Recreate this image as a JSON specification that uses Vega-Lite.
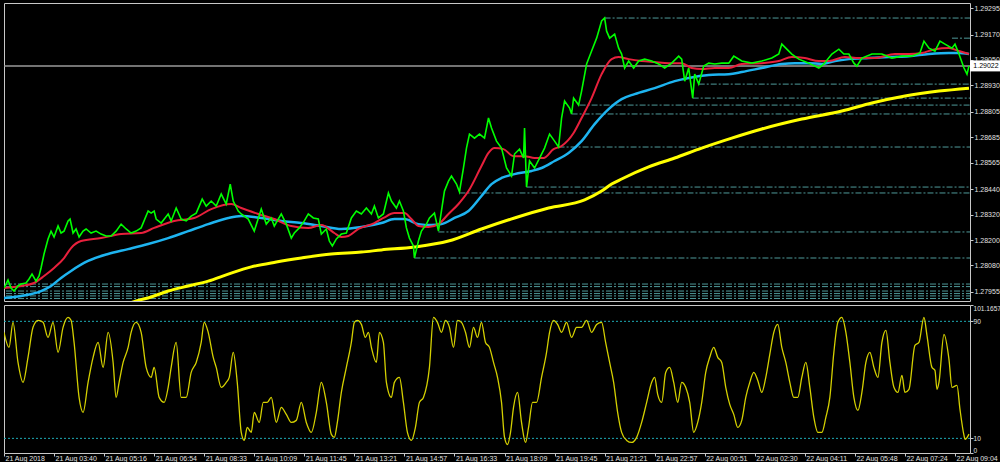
{
"$schema": "https://vega.github.io/schema/vega-lite/v6.json",
"background": "#000000",
"padding": {"left": 2, "top": 2, "right": 0, "bottom": 0},
"spacing": 2,
"config": {
  "view": {"stroke": "#c8c8c8", "strokeWidth": 1},
  "axis": {"labelFont": "Liberation Sans", "labelFontSize": 7, "labelColor": "#e0e0e0", "tickColor": "#c8c8c8", "domain": false, "grid": false, "title": null}
},
"datasets": {
"green": [{"bar":0,"price":1.27973},{"bar":8,"price":1.28011},{"bar":14,"price":1.27973},{"bar":20,"price":1.27959},{"bar":28,"price":1.27983},{"bar":34,"price":1.27992},{"bar":44,"price":1.27997},{"bar":50,"price":1.28016},{"bar":56,"price":1.28039},{"bar":64,"price":1.28006},{"bar":70,"price":1.2803},{"bar":74,"price":1.28068},{"bar":80,"price":1.28134},{"bar":88,"price":1.28205},{"bar":94,"price":1.28242},{"bar":100,"price":1.28214},{"bar":108,"price":1.28266},{"bar":114,"price":1.28233},{"bar":120,"price":1.28242},{"bar":128,"price":1.2829},{"bar":132,"price":1.28299},{"bar":138,"price":1.28233},{"bar":144,"price":1.28252},{"bar":150,"price":1.28214},{"bar":158,"price":1.28242},{"bar":164,"price":1.28252},{"bar":174,"price":1.28233},{"bar":184,"price":1.28242},{"bar":194,"price":1.28228},{"bar":204,"price":1.28219},{"bar":214,"price":1.28219},{"bar":224,"price":1.28242},{"bar":234,"price":1.28275},{"bar":244,"price":1.28252},{"bar":254,"price":1.28233},{"bar":264,"price":1.28242},{"bar":274,"price":1.28257},{"bar":288,"price":1.28337},{"bar":294,"price":1.28327},{"bar":300,"price":1.28337},{"bar":304,"price":1.28299},{"bar":314,"price":1.2828},{"bar":328,"price":1.28323},{"bar":334,"price":1.2829},{"bar":344,"price":1.28351},{"bar":354,"price":1.28299},{"bar":364,"price":1.2829},{"bar":374,"price":1.28313},{"bar":384,"price":1.28327},{"bar":396,"price":1.28393},{"bar":404,"price":1.2836},{"bar":414,"price":1.28384},{"bar":424,"price":1.2836},{"bar":434,"price":1.28417},{"bar":444,"price":1.2837},{"bar":452,"price":1.28464},{"bar":458,"price":1.28384},{"bar":468,"price":1.28337},{"bar":474,"price":1.28323},{"bar":488,"price":1.28299},{"bar":500,"price":1.28242},{"bar":514,"price":1.28346},{"bar":524,"price":1.28275},{"bar":534,"price":1.28304},{"bar":540,"price":1.28266},{"bar":554,"price":1.28323},{"bar":564,"price":1.28275},{"bar":574,"price":1.28209},{"bar":580,"price":1.28233},{"bar":590,"price":1.28257},{"bar":600,"price":1.2829},{"bar":608,"price":1.28323},{"bar":618,"price":1.28304},{"bar":628,"price":1.28299},{"bar":634,"price":1.28228},{"bar":644,"price":1.28252},{"bar":650,"price":1.28195},{"bar":656,"price":1.28172},{"bar":664,"price":1.28205},{"bar":674,"price":1.28228},{"bar":684,"price":1.28233},{"bar":694,"price":1.28304},{"bar":704,"price":1.28337},{"bar":714,"price":1.28323},{"bar":724,"price":1.28351},{"bar":734,"price":1.28323},{"bar":740,"price":1.2836},{"bar":748,"price":1.28304},{"bar":758,"price":1.28323},{"bar":768,"price":1.28422},{"bar":774,"price":1.28384},{"bar":784,"price":1.28351},{"bar":790,"price":1.28384},{"bar":798,"price":1.28337},{"bar":804,"price":1.28257},{"bar":810,"price":1.28209},{"bar":818,"price":1.28172},{"bar":820,"price":1.28115},{"bar":828,"price":1.28195},{"bar":834,"price":1.28242},{"bar":844,"price":1.28275},{"bar":850,"price":1.28304},{"bar":860,"price":1.28327},{"bar":868,"price":1.28242},{"bar":874,"price":1.28337},{"bar":880,"price":1.28431},{"bar":888,"price":1.28478},{"bar":894,"price":1.28502},{"bar":904,"price":1.28464},{"bar":910,"price":1.28427},{"bar":918,"price":1.2854},{"bar":924,"price":1.28634},{"bar":930,"price":1.287},{"bar":940,"price":1.28681},{"bar":950,"price":1.287},{"bar":960,"price":1.28681},{"bar":968,"price":1.28776},{"bar":974,"price":1.28729},{"bar":984,"price":1.28667},{"bar":994,"price":1.28634},{"bar":1004,"price":1.2854},{"bar":1014,"price":1.28502},{"bar":1020,"price":1.28606},{"bar":1030,"price":1.28629},{"bar":1038,"price":1.28587},{"bar":1040,"price":1.28729},{"bar":1044,"price":1.2845},{"bar":1050,"price":1.28573},{"bar":1060,"price":1.2854},{"bar":1070,"price":1.28587},{"bar":1080,"price":1.28634},{"bar":1090,"price":1.287},{"bar":1100,"price":1.28667},{"bar":1108,"price":1.28639},{"bar":1114,"price":1.28776},{"bar":1120,"price":1.28856},{"bar":1130,"price":1.28823},{"bar":1134,"price":1.28795},{"bar":1138,"price":1.2887},{"bar":1148,"price":1.28837},{"bar":1154,"price":1.28903},{"bar":1164,"price":1.29031},{"bar":1174,"price":1.29092},{"bar":1184,"price":1.29153},{"bar":1194,"price":1.29234},{"bar":1200,"price":1.29248},{"bar":1204,"price":1.29186},{"bar":1210,"price":1.29153},{"bar":1220,"price":1.29172},{"bar":1228,"price":1.29106},{"bar":1234,"price":1.29078},{"bar":1240,"price":1.29012},{"bar":1248,"price":1.29045},{"bar":1258,"price":1.29012},{"bar":1268,"price":1.29045},{"bar":1280,"price":1.29054},{"bar":1294,"price":1.29045},{"bar":1308,"price":1.29031},{"bar":1320,"price":1.29012},{"bar":1334,"price":1.29035},{"bar":1348,"price":1.29068},{"bar":1354,"price":1.29054},{"bar":1360,"price":1.2895},{"bar":1368,"price":1.29012},{"bar":1376,"price":1.2887},{"bar":1380,"price":1.28983},{"bar":1388,"price":1.28936},{"bar":1398,"price":1.29021},{"bar":1408,"price":1.29035},{"bar":1420,"price":1.29031},{"bar":1434,"price":1.29035},{"bar":1448,"price":1.29035},{"bar":1458,"price":1.29068},{"bar":1474,"price":1.29045},{"bar":1494,"price":1.29035},{"bar":1514,"price":1.29045},{"bar":1534,"price":1.29059},{"bar":1548,"price":1.29078},{"bar":1554,"price":1.29125},{"bar":1564,"price":1.29101},{"bar":1574,"price":1.29078},{"bar":1588,"price":1.29054},{"bar":1608,"price":1.29035},{"bar":1628,"price":1.29012},{"bar":1638,"price":1.29031},{"bar":1654,"price":1.29078},{"bar":1668,"price":1.29101},{"bar":1678,"price":1.29078},{"bar":1688,"price":1.29078},{"bar":1698,"price":1.29035},{"bar":1704,"price":1.29021},{"bar":1714,"price":1.29059},{"bar":1734,"price":1.29078},{"bar":1754,"price":1.29078},{"bar":1774,"price":1.29059},{"bar":1794,"price":1.29068},{"bar":1814,"price":1.29068},{"bar":1830,"price":1.29083},{"bar":1838,"price":1.29139},{"bar":1848,"price":1.29106},{"bar":1860,"price":1.29092},{"bar":1870,"price":1.29139},{"bar":1880,"price":1.29125},{"bar":1894,"price":1.29106},{"bar":1900,"price":1.29125},{"bar":1908,"price":1.29078},{"bar":1918,"price":1.29012},{"bar":1924,"price":1.28983},{"bar":1928,"price":1.29022}],
"red": [{"bar":0,"price":1.27973},{"bar":34,"price":1.27983},{"bar":60,"price":1.27997},{"bar":80,"price":1.2803},{"bar":100,"price":1.28068},{"bar":120,"price":1.28115},{"bar":134,"price":1.28162},{"bar":154,"price":1.28195},{"bar":194,"price":1.28209},{"bar":234,"price":1.28228},{"bar":274,"price":1.28233},{"bar":300,"price":1.28257},{"bar":340,"price":1.2829},{"bar":380,"price":1.28304},{"bar":414,"price":1.28346},{"bar":454,"price":1.2837},{"bar":474,"price":1.28351},{"bar":508,"price":1.28323},{"bar":540,"price":1.28299},{"bar":574,"price":1.28266},{"bar":608,"price":1.28257},{"bar":634,"price":1.28271},{"bar":660,"price":1.28233},{"bar":674,"price":1.28214},{"bar":688,"price":1.28219},{"bar":708,"price":1.28252},{"bar":740,"price":1.2828},{"bar":758,"price":1.28304},{"bar":780,"price":1.28327},{"bar":800,"price":1.28327},{"bar":814,"price":1.28299},{"bar":828,"price":1.28266},{"bar":848,"price":1.28261},{"bar":868,"price":1.28275},{"bar":888,"price":1.28323},{"bar":908,"price":1.2837},{"bar":928,"price":1.28431},{"bar":954,"price":1.28549},{"bar":968,"price":1.28611},{"bar":980,"price":1.28634},{"bar":998,"price":1.28629},{"bar":1018,"price":1.28596},{"bar":1040,"price":1.28596},{"bar":1060,"price":1.28587},{"bar":1078,"price":1.28587},{"bar":1098,"price":1.28629},{"bar":1114,"price":1.28644},{"bar":1138,"price":1.28705},{"bar":1154,"price":1.28776},{"bar":1174,"price":1.2887},{"bar":1194,"price":1.28983},{"bar":1214,"price":1.29054},{"bar":1228,"price":1.29064},{"bar":1248,"price":1.29054},{"bar":1274,"price":1.29045},{"bar":1300,"price":1.2904},{"bar":1328,"price":1.29035},{"bar":1354,"price":1.29035},{"bar":1374,"price":1.29012},{"bar":1394,"price":1.29007},{"bar":1420,"price":1.29012},{"bar":1448,"price":1.29012},{"bar":1474,"price":1.29031},{"bar":1514,"price":1.29035},{"bar":1548,"price":1.29045},{"bar":1574,"price":1.29064},{"bar":1600,"price":1.29059},{"bar":1628,"price":1.29045},{"bar":1648,"price":1.29045},{"bar":1680,"price":1.29064},{"bar":1708,"price":1.29059},{"bar":1740,"price":1.29059},{"bar":1780,"price":1.29078},{"bar":1808,"price":1.29078},{"bar":1834,"price":1.29083},{"bar":1860,"price":1.29101},{"bar":1888,"price":1.29106},{"bar":1908,"price":1.29092},{"bar":1928,"price":1.29078}],
"blue": [{"bar":0,"price":1.27926},{"bar":34,"price":1.27936},{"bar":74,"price":1.27959},{"bar":94,"price":1.27983},{"bar":114,"price":1.28021},{"bar":134,"price":1.28054},{"bar":168,"price":1.28101},{"bar":208,"price":1.28134},{"bar":248,"price":1.28157},{"bar":288,"price":1.28181},{"bar":328,"price":1.28209},{"bar":368,"price":1.28242},{"bar":408,"price":1.28275},{"bar":448,"price":1.28304},{"bar":474,"price":1.28313},{"bar":514,"price":1.28304},{"bar":554,"price":1.2829},{"bar":594,"price":1.2828},{"bar":634,"price":1.28266},{"bar":674,"price":1.28252},{"bar":714,"price":1.28261},{"bar":754,"price":1.2828},{"bar":780,"price":1.28299},{"bar":800,"price":1.28299},{"bar":828,"price":1.28275},{"bar":854,"price":1.28271},{"bar":874,"price":1.28275},{"bar":900,"price":1.28304},{"bar":928,"price":1.28337},{"bar":954,"price":1.28408},{"bar":974,"price":1.28464},{"bar":994,"price":1.28493},{"bar":1020,"price":1.28511},{"bar":1054,"price":1.28526},{"bar":1074,"price":1.2854},{"bar":1100,"price":1.28573},{"bar":1128,"price":1.28611},{"bar":1154,"price":1.28667},{"bar":1180,"price":1.28747},{"bar":1208,"price":1.28818},{"bar":1234,"price":1.28865},{"bar":1260,"price":1.28889},{"bar":1300,"price":1.28917},{"bar":1340,"price":1.2895},{"bar":1368,"price":1.28965},{"bar":1408,"price":1.28979},{"bar":1448,"price":1.28983},{"bar":1474,"price":1.28993},{"bar":1514,"price":1.29012},{"bar":1554,"price":1.29031},{"bar":1580,"price":1.29035},{"bar":1608,"price":1.29035},{"bar":1634,"price":1.29031},{"bar":1660,"price":1.29045},{"bar":1688,"price":1.29054},{"bar":1728,"price":1.29059},{"bar":1768,"price":1.29064},{"bar":1808,"price":1.29068},{"bar":1848,"price":1.29078},{"bar":1888,"price":1.29083},{"bar":1908,"price":1.29083},{"bar":1928,"price":1.29078}],
"yellow": [{"bar":234,"price":1.27888},{"bar":264,"price":1.27912},{"bar":294,"price":1.27931},{"bar":328,"price":1.27959},{"bar":368,"price":1.27983},{"bar":408,"price":1.28006},{"bar":448,"price":1.28039},{"bar":494,"price":1.28073},{"bar":544,"price":1.28096},{"bar":594,"price":1.28115},{"bar":654,"price":1.28134},{"bar":714,"price":1.28143},{"bar":754,"price":1.28153},{"bar":820,"price":1.28167},{"bar":888,"price":1.28195},{"bar":954,"price":1.28252},{"bar":1020,"price":1.28304},{"bar":1088,"price":1.28351},{"bar":1160,"price":1.28389},{"bar":1194,"price":1.28431},{"bar":1214,"price":1.28464},{"bar":1234,"price":1.28488},{"bar":1288,"price":1.28545},{"bar":1340,"price":1.28587},{"bar":1394,"price":1.28634},{"bar":1454,"price":1.28681},{"bar":1514,"price":1.28724},{"bar":1594,"price":1.28771},{"bar":1674,"price":1.28809},{"bar":1734,"price":1.28847},{"bar":1800,"price":1.2888},{"bar":1868,"price":1.28903},{"bar":1928,"price":1.28917}],
"levels": [{"bar":1200,"price":1.29248},{"bar":1894,"price":1.29153},{"bar":1388,"price":1.28936},{"bar":1376,"price":1.2887},{"bar":1150,"price":1.28837},{"bar":1134,"price":1.28795},{"bar":1108,"price":1.28639},{"bar":1044,"price":1.2845},{"bar":910,"price":1.28422},{"bar":868,"price":1.28238},{"bar":820,"price":1.28115},{"bar":4,"price":1.27992},{"bar":4,"price":1.2798},{"bar":4,"price":1.27959},{"bar":4,"price":1.27947},{"bar":4,"price":1.27936},{"bar":4,"price":1.27924}],
"current": [{"bar":0,"price":1.29022}],
"tag": [{"bar":1930,"price":1.29022,"label":"1.29022"}],
"stoch": [{"bar":0,"value":82.5},{"bar":10,"value":72.2},{"bar":18,"value":89.3},{"bar":28,"value":61.9},{"bar":38,"value":48.3},{"bar":48,"value":65.4},{"bar":58,"value":85.9},{"bar":68,"value":90.7},{"bar":78,"value":89.3},{"bar":88,"value":79.0},{"bar":98,"value":89.3},{"bar":108,"value":68.8},{"bar":118,"value":85.9},{"bar":128,"value":92.7},{"bar":134,"value":90.7},{"bar":140,"value":75.6},{"bar":150,"value":38.0},{"bar":158,"value":27.8},{"bar":168,"value":48.3},{"bar":178,"value":65.4},{"bar":188,"value":75.6},{"bar":198,"value":58.5},{"bar":208,"value":82.5},{"bar":218,"value":61.9},{"bar":224,"value":38.0},{"bar":230,"value":48.3},{"bar":238,"value":61.9},{"bar":248,"value":72.2},{"bar":254,"value":82.5},{"bar":264,"value":89.3},{"bar":274,"value":82.5},{"bar":284,"value":58.5},{"bar":294,"value":51.7},{"bar":300,"value":58.5},{"bar":310,"value":38.0},{"bar":320,"value":34.6},{"bar":328,"value":44.9},{"bar":334,"value":58.5},{"bar":344,"value":75.6},{"bar":354,"value":38.0},{"bar":364,"value":38.0},{"bar":374,"value":55.1},{"bar":384,"value":61.9},{"bar":394,"value":75.6},{"bar":400,"value":89.3},{"bar":408,"value":82.5},{"bar":418,"value":65.4},{"bar":424,"value":58.5},{"bar":434,"value":44.9},{"bar":444,"value":48.3},{"bar":450,"value":51.7},{"bar":458,"value":68.8},{"bar":466,"value":48.3},{"bar":474,"value":14.1},{"bar":480,"value":8.6},{"bar":486,"value":17.5},{"bar":494,"value":14.1},{"bar":500,"value":27.8},{"bar":510,"value":20.9},{"bar":518,"value":34.6},{"bar":526,"value":34.6},{"bar":534,"value":38.0},{"bar":544,"value":20.9},{"bar":554,"value":31.2},{"bar":564,"value":26.4},{"bar":574,"value":20.9},{"bar":584,"value":22.3},{"bar":594,"value":34.6},{"bar":604,"value":20.9},{"bar":614,"value":14.1},{"bar":624,"value":27.8},{"bar":634,"value":48.3},{"bar":644,"value":34.6},{"bar":654,"value":12.7},{"bar":660,"value":10.7},{"bar":666,"value":20.9},{"bar":674,"value":41.4},{"bar":684,"value":58.5},{"bar":694,"value":75.6},{"bar":700,"value":89.3},{"bar":706,"value":90.7},{"bar":714,"value":87.9},{"bar":722,"value":79.0},{"bar":728,"value":82.5},{"bar":734,"value":72.2},{"bar":744,"value":61.9},{"bar":750,"value":82.5},{"bar":758,"value":75.6},{"bar":764,"value":48.3},{"bar":774,"value":38.0},{"bar":780,"value":48.3},{"bar":790,"value":51.7},{"bar":798,"value":34.6},{"bar":806,"value":14.1},{"bar":814,"value":8.6},{"bar":822,"value":17.5},{"bar":830,"value":34.6},{"bar":838,"value":38.0},{"bar":850,"value":58.5},{"bar":858,"value":92.7},{"bar":866,"value":89.3},{"bar":874,"value":82.5},{"bar":882,"value":90.7},{"bar":890,"value":85.9},{"bar":898,"value":72.2},{"bar":906,"value":90.7},{"bar":914,"value":89.3},{"bar":922,"value":82.5},{"bar":930,"value":72.2},{"bar":938,"value":85.9},{"bar":946,"value":79.0},{"bar":954,"value":89.3},{"bar":962,"value":75.6},{"bar":970,"value":72.2},{"bar":978,"value":61.9},{"bar":986,"value":51.7},{"bar":994,"value":34.6},{"bar":1000,"value":10.7},{"bar":1006,"value":5.8},{"bar":1012,"value":14.1},{"bar":1018,"value":31.2},{"bar":1026,"value":41.4},{"bar":1034,"value":20.9},{"bar":1042,"value":7.2},{"bar":1048,"value":17.5},{"bar":1056,"value":34.6},{"bar":1064,"value":34.6},{"bar":1074,"value":51.7},{"bar":1084,"value":68.8},{"bar":1090,"value":82.5},{"bar":1098,"value":90.7},{"bar":1106,"value":87.9},{"bar":1114,"value":82.5},{"bar":1124,"value":89.3},{"bar":1134,"value":79.0},{"bar":1144,"value":85.9},{"bar":1154,"value":85.9},{"bar":1164,"value":90.7},{"bar":1174,"value":82.5},{"bar":1184,"value":87.9},{"bar":1194,"value":89.3},{"bar":1202,"value":75.6},{"bar":1210,"value":61.9},{"bar":1218,"value":48.3},{"bar":1226,"value":27.8},{"bar":1234,"value":14.1},{"bar":1244,"value":8.6},{"bar":1254,"value":7.2},{"bar":1264,"value":10.7},{"bar":1274,"value":20.9},{"bar":1284,"value":34.6},{"bar":1294,"value":48.3},{"bar":1300,"value":51.7},{"bar":1306,"value":40.1},{"bar":1314,"value":34.6},{"bar":1322,"value":55.1},{"bar":1330,"value":58.5},{"bar":1338,"value":48.3},{"bar":1346,"value":34.6},{"bar":1354,"value":48.3},{"bar":1362,"value":44.9},{"bar":1370,"value":34.6},{"bar":1378,"value":14.1},{"bar":1386,"value":20.9},{"bar":1394,"value":34.6},{"bar":1402,"value":55.1},{"bar":1410,"value":65.4},{"bar":1418,"value":72.2},{"bar":1426,"value":65.4},{"bar":1434,"value":61.9},{"bar":1442,"value":44.9},{"bar":1450,"value":33.2},{"bar":1458,"value":26.4},{"bar":1466,"value":17.5},{"bar":1474,"value":22.3},{"bar":1482,"value":38.0},{"bar":1490,"value":48.3},{"bar":1498,"value":55.1},{"bar":1506,"value":49.6},{"bar":1514,"value":41.4},{"bar":1522,"value":51.7},{"bar":1530,"value":67.4},{"bar":1538,"value":82.5},{"bar":1546,"value":87.9},{"bar":1554,"value":72.2},{"bar":1562,"value":61.9},{"bar":1570,"value":48.3},{"bar":1578,"value":38.0},{"bar":1586,"value":38.0},{"bar":1594,"value":51.7},{"bar":1602,"value":61.9},{"bar":1610,"value":44.9},{"bar":1618,"value":24.3},{"bar":1626,"value":14.1},{"bar":1634,"value":14.1},{"bar":1642,"value":24.3},{"bar":1650,"value":38.0},{"bar":1658,"value":68.8},{"bar":1666,"value":89.3},{"bar":1674,"value":92.7},{"bar":1682,"value":82.5},{"bar":1690,"value":61.9},{"bar":1698,"value":38.0},{"bar":1706,"value":29.1},{"bar":1714,"value":41.4},{"bar":1722,"value":61.9},{"bar":1730,"value":68.8},{"bar":1738,"value":58.5},{"bar":1746,"value":51.7},{"bar":1754,"value":75.6},{"bar":1762,"value":83.8},{"bar":1770,"value":61.9},{"bar":1778,"value":44.9},{"bar":1786,"value":41.4},{"bar":1794,"value":53.1},{"bar":1800,"value":41.4},{"bar":1808,"value":43.5},{"bar":1820,"value":73.6},{"bar":1828,"value":75.6},{"bar":1838,"value":92.7},{"bar":1844,"value":80.4},{"bar":1854,"value":58.5},{"bar":1860,"value":56.5},{"bar":1864,"value":43.5},{"bar":1868,"value":48.3},{"bar":1878,"value":81.1},{"bar":1888,"value":64.0},{"bar":1894,"value":44.9},{"bar":1904,"value":46.2},{"bar":1910,"value":29.8},{"bar":1918,"value":12.0},{"bar":1920,"value":9.3},{"bar":1928,"value":12.9}],
"stoch_levels": [{"bar":0,"value":90},{"bar":0,"value":10}]
},
"vconcat": [
{
  "width": 966,
  "height": 298,
  "encoding": {
    "x": {"field": "bar", "type": "quantitative", "scale": {"domain": [0, 1930], "nice": false, "zero": false}, "axis": null},
    "y": {"field": "price", "type": "quantitative", "scale": {"domain": [1.27912, 1.29319], "nice": false, "zero": false},
          "axis": {"orient": "right", "values": [1.29295, 1.2917, 1.2905, 1.2893, 1.28805, 1.28685, 1.28565, 1.2844, 1.2832, 1.282, 1.2808, 1.27955], "format": ".5f", "tickSize": 3, "labelPadding": 1, "labelBaseline": "middle"}}
  },
  "layer": [
    {"data": {"name": "levels"}, "mark": {"type": "rule", "color": "#4f9a9a", "strokeWidth": 1, "strokeDash": [6, 2, 2, 2]}, "encoding": {"x2": {"datum": 1930}}},
    {"data": {"name": "current"}, "mark": {"type": "rule", "color": "#9a9a9a", "strokeWidth": 1.5}, "encoding": {"x2": {"datum": 1930}}},
    {"data": {"name": "yellow"}, "mark": {"type": "line", "color": "#ffff00", "strokeWidth": 3, "interpolate": "monotone", "clip": true}},
    {"data": {"name": "blue"}, "mark": {"type": "line", "color": "#1eb4f0", "strokeWidth": 2.5, "interpolate": "monotone", "clip": true}},
    {"data": {"name": "red"}, "mark": {"type": "line", "color": "#e8203c", "strokeWidth": 2, "interpolate": "monotone", "clip": true}},
    {"data": {"name": "green"}, "mark": {"type": "line", "color": "#00ff00", "strokeWidth": 1.6, "clip": true}},
    {"data": {"name": "tag"}, "mark": {"type": "point", "shape": "M-1.6,-0.55L1.6,-0.55L1.6,0.55L-1.6,0.55Z", "size": 400, "filled": true, "color": "#ffffff", "opacity": 1, "strokeWidth": 0, "xOffset": 16}},
    {"data": {"name": "tag"}, "mark": {"type": "text", "color": "#000000", "font": "Liberation Sans", "fontSize": 7, "dx": 16, "align": "center", "baseline": "middle"}, "encoding": {"text": {"field": "label"}}},
    {"data": {"values": [{}]}, "mark": {"type": "text", "text": "▼ GBPUSD-a01,M1  1.29015 1.29032 1.29015 1.29022", "align": "left", "baseline": "top", "dx": 2, "dy": 2, "color": "#ffffff", "font": "Liberation Sans", "fontSize": 7}, "encoding": {"x": {"datum": 0}, "y": {"datum": 1.29319}}}
  ]
},
{
  "width": 966,
  "height": 148,
  "encoding": {
    "x": {"field": "bar", "type": "quantitative", "scale": {"domain": [0, 1930], "nice": false, "zero": false},
          "axis": {"values": [0, 100, 200, 300, 400, 500, 600, 700, 800, 900, 1000, 1100, 1200, 1300, 1400, 1500, 1600, 1700, 1800, 1900],
                   "labelExpr": "['21 Aug 2018','21 Aug 03:40','21 Aug 05:16','21 Aug 06:54','21 Aug 08:33','21 Aug 10:09','21 Aug 11:45','21 Aug 13:21','21 Aug 14:57','21 Aug 16:33','21 Aug 18:09','21 Aug 19:45','21 Aug 21:21','21 Aug 22:57','22 Aug 00:51','22 Aug 02:30','22 Aug 04:11','22 Aug 05:48','22 Aug 07:24','22 Aug 09:04'][round(datum.value / 100)]",
                   "tickSize": 3, "labelAlign": "left", "labelOffset": 1, "labelPadding": -2, "labelBaseline": "top", "labelOverlap": false, "labelFlush": false}},
    "y": {"field": "value", "type": "quantitative", "scale": {"domain": [0, 101.1657], "nice": false, "zero": false},
          "axis": {"orient": "right", "values": [0, 10, 90, 101.1657], "labelExpr": "datum.value > 100 ? '101.1657' : datum.label", "labelFlush": true, "tickSize": 3, "labelPadding": 0, "labelFontSize": 6.6}}
  },
  "layer": [
    {"data": {"name": "stoch_levels"}, "mark": {"type": "rule", "color": "#1eaab4", "strokeWidth": 1, "strokeDash": [2, 2]}, "encoding": {"x2": {"datum": 1930}}},
    {"data": {"name": "stoch"}, "mark": {"type": "line", "color": "#d4d000", "strokeWidth": 1.3, "interpolate": "monotone", "clip": true}},
    {"data": {"values": [{}]}, "mark": {"type": "text", "text": "Stoch(50,5,10) 12.8916 11.0247", "align": "left", "baseline": "top", "dx": 2, "dy": 2, "color": "#ffffff", "font": "Liberation Sans", "fontSize": 7}, "encoding": {"x": {"datum": 0}, "y": {"datum": 101.1657}}}
  ]
}
]
}
